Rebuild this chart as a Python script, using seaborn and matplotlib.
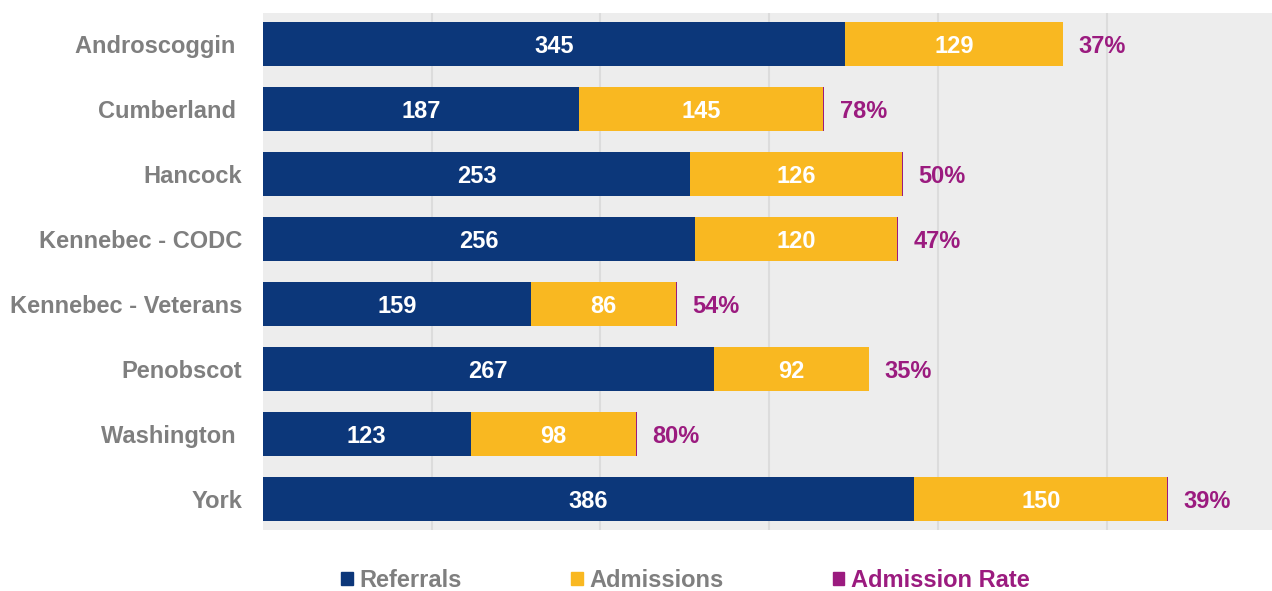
import numpy as np
import pandas as pd
import seaborn as sns
import matplotlib.pyplot as plt
from matplotlib.patches import Patch

# Data
counties = ["Androscoggin ", "Cumberland ", "Hancock", "Kennebec - CODC",
            "Kennebec - Veterans", "Penobscot", "Washington ", "York"]
referrals = [345, 187, 253, 256, 159, 267, 123, 386]
admissions = [129, 145, 126, 120, 86, 92, 98, 150]
rates = [0.37, 0.78, 0.50, 0.47, 0.54, 0.35, 0.80, 0.39]

NAVY = "#0C377A"
GOLD = "#F9B821"
PURPLE = "#9B1B7F"
GREY = "#7F7F7F"

sns.set_theme(style="white")
plt.rcParams['font.family'] = ['Liberation Sans', 'DejaVu Sans']
plt.rcParams['font.weight'] = 'bold'

df = pd.DataFrame({"county": counties, "ref": referrals, "adm": admissions, "rate": rates})
df["ref_adm"] = df["ref"] + df["adm"]
df["total"] = df["ref_adm"] + df["rate"]

fig = plt.figure(figsize=(12.72, 5.91), dpi=100)
ax = fig.add_axes([263 / 1272, 61 / 591, 1 - 263 / 1272, 517 / 591])
ax.set_facecolor("#EDEDED")

# stack by drawing cumulative totals, biggest first
bar_kw = dict(order=counties, saturation=1, width=0.68, ax=ax, zorder=2, linewidth=0)
sns.barplot(data=df, y="county", x="total", color=PURPLE, **bar_kw)
sns.barplot(data=df, y="county", x="ref_adm", color=GOLD, **bar_kw)
sns.barplot(data=df, y="county", x="ref", color=NAVY, **bar_kw)

ax.set_xlim(0, 598)
ax.set_ylim(7.48, -0.48)
ax.set_xticks([100, 200, 300, 400, 500])
ax.xaxis.grid(True, color="#DCDCDC", linewidth=1.5, zorder=0)
ax.set_axisbelow(True)
ax.tick_params(axis="x", length=0, labelbottom=False)
ax.tick_params(axis="y", length=0, pad=15, labelsize=17, labelcolor=GREY)
for lab in ax.get_yticklabels():
    lab.set_fontweight("bold")
ax.set_xlabel("")
ax.set_ylabel("")
for s in ax.spines.values():
    s.set_visible(False)

# value labels
for i, row in df.iterrows():
    ax.text(row["ref"] / 2, i, str(row["ref"]), ha="center", va="center_baseline",
            color="white", fontsize=17, fontweight="bold", zorder=3)
    ax.text(row["ref"] + row["adm"] / 2, i, str(row["adm"]), ha="center",
            va="center_baseline", color="white", fontsize=17, fontweight="bold", zorder=3)
    ax.annotate(f"{row['rate']:.0%}", (row["total"], i), xytext=(11, 0),
                textcoords="offset points", ha="left", va="center_baseline",
                color=PURPLE, fontsize=17, fontweight="bold")

handles = [Patch(color=NAVY), Patch(color=GOLD), Patch(color=PURPLE)]
leg = fig.legend(handles, ["Referrals", "Admissions", "Admission Rate"],
                 loc="center", bbox_to_anchor=(0.539, 0.018), ncol=3,
                 frameon=False, fontsize=17, handlelength=0.5, handleheight=0.5,
                 handletextpad=0.3, columnspacing=4.6)
for t, c in zip(leg.get_texts(), [GREY, GREY, PURPLE]):
    t.set_color(c)
    t.set_fontweight("bold")

fig.savefig("out.png", dpi=100)
